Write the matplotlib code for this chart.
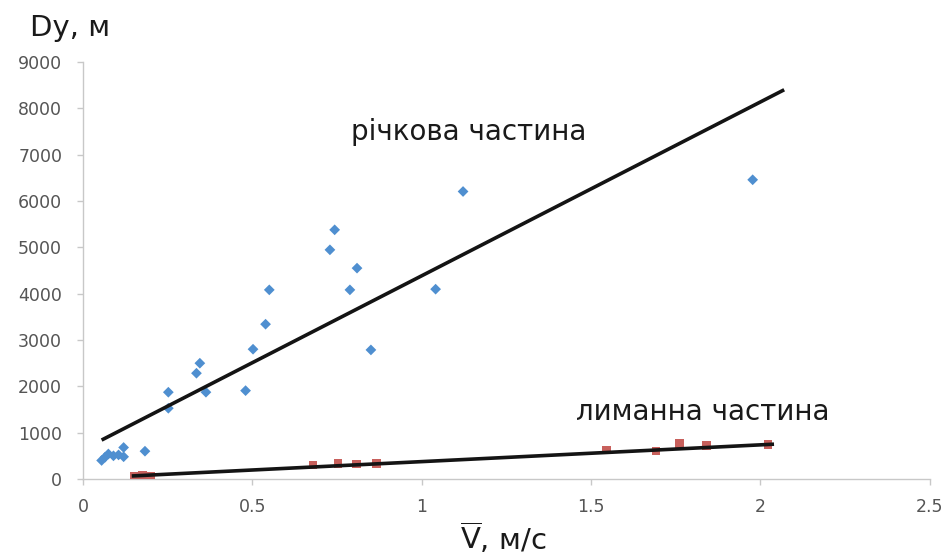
import numpy as np
import matplotlib
matplotlib.use("Agg")
import matplotlib.pyplot as plt

plt.rcParams['font.family'] = ['DejaVu Sans']

# River section: mean flow velocity (m/s) vs mixing length Dy (m)
river_v = [0.055, 0.065, 0.075, 0.09, 0.105, 0.12, 0.12, 0.183,
           0.252, 0.252, 0.335, 0.345, 0.363, 0.48, 0.502, 0.539,
           0.55, 0.729, 0.743, 0.788, 0.809, 0.85, 1.041, 1.122, 1.977]
river_d = [400, 470, 540, 500, 520, 680, 480, 600,
           1527, 1873, 2283, 2499, 1873, 1907, 2801, 3341,
           4082, 4946, 5378, 4082, 4551, 2786, 4097, 6205, 6458]

# Estuary (liman) section
liman_v = [0.15, 0.175, 0.2, 0.679, 0.753, 0.807, 0.866,
           1.545, 1.692, 1.761, 1.84, 2.022]
liman_d = [55, 70, 60, 300, 330, 320, 340,
           630, 600, 760, 720, 750]

# Linear trend lines: D = a * V + b, drawn over [v_start, v_end]
river_trend = (3752, 634)
river_range = (0.055, 2.07)
liman_trend = (362, 13)
liman_range = (0.144, 2.04)

x_ticks = [0, 0.5, 1, 1.5, 2, 2.5]
x_labels = ['0', '0.5', '1', '1.5', '2', '2.5']
y_ticks = [0, 1000, 2000, 3000, 4000, 5000, 6000, 7000, 8000, 9000]

fig = plt.figure(figsize=(9.44, 5.56), dpi=100)
ax = fig.add_axes([0.0879, 0.1385, 0.8971, 0.75])

ax.scatter(river_v, river_d, marker='D', s=30, color='#4f8fd0',
           edgecolors='none', zorder=3)
ax.scatter(liman_v, liman_d, marker='s', s=38, color='#c8605c',
           edgecolors='none', zorder=3)

for (a, b), (v0, v1) in ((river_trend, river_range), (liman_trend, liman_range)):
    vv = np.array([v0, v1])
    ax.plot(vv, a * vv + b, color='#141414', lw=2.6, zorder=4,
            solid_capstyle='butt')

ax.set_xlim(0, 2.5)
ax.set_ylim(0, 9000)
ax.set_xticks(x_ticks)
ax.set_xticklabels(x_labels)
ax.set_yticks(y_ticks)

for side in ('top', 'right'):
    ax.spines[side].set_visible(False)
for side in ('left', 'bottom'):
    ax.spines[side].set_color('#c8c8c8')
    ax.spines[side].set_linewidth(1.0)

ax.tick_params(axis='both', colors='#c8c8c8', labelcolor='#555555',
               labelsize=12.5, length=4, width=1.0, direction='out')
ax.tick_params(axis='y', pad=11)
ax.tick_params(axis='x', pad=10)

ax.text(1.14, 7490, 'річкова частина', fontsize=20, color='#1a1a1a',
        ha='center', va='center')
ax.text(1.83, 1450, 'лиманна частина', fontsize=20, color='#1a1a1a',
        ha='center', va='center')

fig.text(30 / 944, 1 - 28 / 556, 'Dy, м', fontsize=21, color='#1a1a1a',
         ha='left', va='center')
fig.text(503 / 944, 1 - 538 / 556, r'$\overline{\mathrm{V}}$, м/с',
         fontsize=21, color='#1a1a1a', ha='center', va='center')

fig.savefig('out.png', dpi=100, facecolor='white')
